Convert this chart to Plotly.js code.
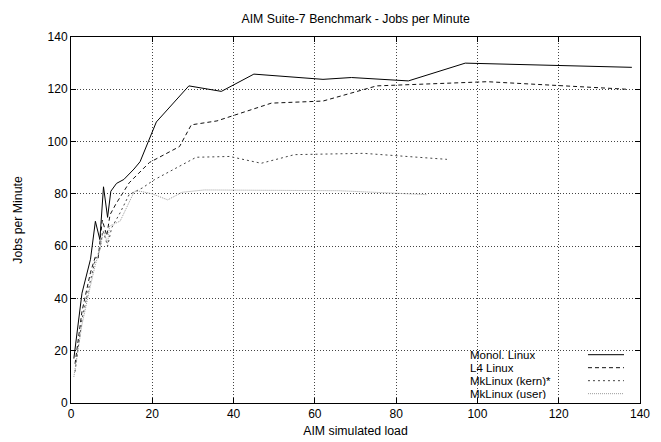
<!DOCTYPE html>
<html>
<head>
<meta charset="utf-8">
<script src="https://cdn.plot.ly/plotly-3.0.1.min.js"></script>
<style>html,body{margin:0;padding:0;background:#fff;}#chart{width:661px;height:442px;}</style>
</head>
<body>
<div id="chart"></div>
<script>
const seriesNames = ["Monol. Linux", "L4 Linux", "MkLinux (kern)*", "MkLinux (user)"];

const monolX = [0.7, 2.7, 4.8, 6, 7.1, 8, 9, 9.8, 11.2, 13, 15.5, 17, 21, 29, 37, 45, 62, 69, 83, 97, 138];
const monolY = [17, 42, 55, 69.5, 62.5, 82.7, 71, 81, 84, 85.5, 89.5, 92.3, 107.5, 121.3, 119.2, 125.8, 123.8, 124.5, 123.2, 130, 128.4];

const l4X = [1, 2.7, 4.8, 6, 6.7, 7.7, 8.8, 9.6, 11, 14.3, 19.3, 26.7, 29.6, 35.9, 49.3, 62, 75.2, 102.4, 137];
const l4Y = [15, 35, 50, 56, 55.5, 70, 64, 72, 76, 84.2, 92, 98.1, 106.4, 107.9, 114.7, 115.5, 121.3, 122.9, 120];

const kernX = [1, 2.7, 4.8, 6, 7, 7.9, 9, 10, 12.1, 14.3, 17.6, 20.5, 30.8, 39, 46.8, 55, 72, 92.5];
const kernY = [12, 32, 47, 55, 58, 66, 60, 67, 72.8, 79.7, 82.3, 85.4, 94, 94.3, 91.7, 95, 95.5, 93.2];

const userX = [0.7, 2.7, 4.8, 6, 7, 8, 9, 9.5, 12.1, 15.6, 17, 20, 23.8, 27.3, 32.8, 66, 87.5];
const userY = [10, 30, 45, 53, 58, 66, 61, 67.7, 69.6, 81, 81, 80, 77.7, 80.6, 81.5, 81.2, 79.7];

const xTicks = [0, 20, 40, 60, 80, 100, 120, 140];
const yTicks = [0, 20, 40, 60, 80, 100, 120, 140];

const styles = [
  {color: "#000000", dash: "solid", width: 1},
  {color: "#111111", dash: "4px,3px", width: 1},
  {color: "#444444", dash: "2px,3px", width: 1},
  {color: "#9a9a9a", dash: "1px,1px", width: 1}
];

const xs = [monolX, l4X, kernX, userX];
const ys = [monolY, l4Y, kernY, userY];

const traces = seriesNames.map((n, i) => ({
  type: "scatter", mode: "lines", name: n, x: xs[i], y: ys[i],
  line: styles[i], showlegend: false, hoverinfo: "skip"
}));

const fam = "Liberation Sans, Arial, Helvetica, sans-serif";
const font = {family: fam, size: 12, color: "#000"};

const legendRowsY = [0.132, 0.0965, 0.061, 0.0255];
const annotations = seriesNames.map((n, i) => ({
  xref: "paper", yref: "paper", x: 0.6995, y: legendRowsY[i],
  xanchor: "left", yanchor: "middle", text: n, showarrow: false,
  borderpad: 0, height: 11, valign: "middle",
  font: {family: fam, size: 11.5, color: "#000"}
}));
const shapes = [{
  type: "rect", xref: "paper", yref: "paper", layer: "between",
  x0: 0.687, x1: 0.986, y0: 0.016, y1: 0.156,
  fillcolor: "#fff", line: {width: 0}
}].concat(seriesNames.map((n, i) => ({
  type: "line", xref: "paper", yref: "paper",
  x0: 0.9086, x1: 0.9719, y0: legendRowsY[i], y1: legendRowsY[i],
  line: styles[i]
})));

const axisCommon = {
  showline: true, linecolor: "#000", linewidth: 1, mirror: "ticks",
  ticks: "inside", ticklen: 5, tickcolor: "#000", tickwidth: 1,
  showgrid: true, gridcolor: "#444", griddash: "1px,2px", gridwidth: 1,
  zeroline: false, tickfont: font
};

const layout = {
  width: 661, height: 442,
  margin: {l: 71, r: 21, t: 37, b: 39},
  paper_bgcolor: "#fff", plot_bgcolor: "#fff",
  font: font,
  title: {text: "AIM Suite-7 Benchmark - Jobs per Minute", font: {family: fam, size: 12.3, color: "#000"}, x: 0.538, xanchor: "center", y: 0.9586, yanchor: "middle"},
  xaxis: Object.assign({}, axisCommon, {
    range: [0, 140], tickvals: xTicks, ticktext: xTicks.map(String),
    title: {text: "AIM simulated load", font: {family: fam, size: 12.3, color: "#000"}, standoff: 5}
  }),
  yaxis: Object.assign({}, axisCommon, {
    range: [0, 140], tickvals: yTicks, ticktext: yTicks.map(String),
    title: {text: "Jobs per Minute", font: {family: fam, size: 12.3, color: "#000"}, standoff: 22}
  }),
  annotations: annotations,
  shapes: shapes
};

Plotly.newPlot("chart", traces, layout, {staticPlot: true, displayModeBar: false});
</script>
</body>
</html>
